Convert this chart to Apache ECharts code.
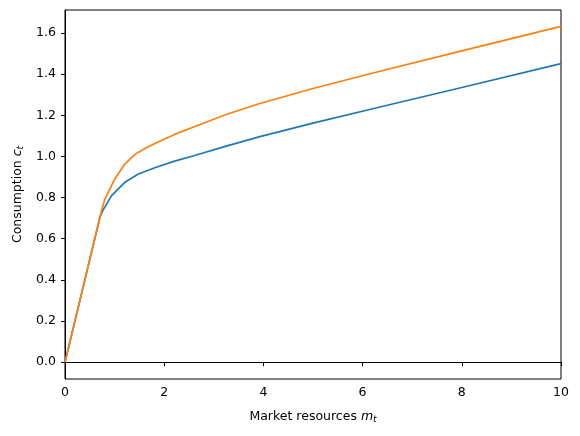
<!DOCTYPE html>
<html>
<head>
<meta charset="utf-8">
<script src="https://cdn.jsdelivr.net/npm/echarts@6/dist/echarts.min.js"></script>
<style>html,body{margin:0;padding:0;background:#fff}#c{width:580px;height:436px}</style>
</head>
<body>
<div id="c"></div>
<script>
const mBlue = [0, 0.71, 0.77, 0.935, 1.2, 1.47, 1.81, 2.21, 2.58, 3.25, 3.93, 5, 6.35, 8, 10];
const cBlue = [0, 0.71, 0.74, 0.808, 0.873, 0.913, 0.945, 0.977, 1.002, 1.050, 1.096, 1.162, 1.240, 1.335, 1.451];
const mOrange = [0, 0.74, 0.80, 1.0, 1.2, 1.41, 1.61, 1.81, 2.21, 2.58, 3.25, 3.93, 5, 6.35, 8, 10];
const cOrange = [0, 0.74, 0.79, 0.889, 0.961, 1.010, 1.038, 1.063, 1.107, 1.142, 1.204, 1.257, 1.33, 1.414, 1.513, 1.632];
const xTicks = [0, 2, 4, 6, 8, 10];
const yTicks = [0, 0.2, 0.4, 0.6, 0.8, 1.0, 1.2, 1.4, 1.6];

const font = 'DejaVu Sans';
const zip = (a, b) => a.map((v, i) => [v, b[i]]);
const chart = echarts.init(document.getElementById('c'), null, {renderer: 'canvas'});
chart.setOption({
  animation: false,
  grid: {left: 65, right: 19, top: 10, bottom: 57, show: true, borderColor: '#000', borderWidth: 1, backgroundColor: '#fff'},
  xAxis: {
    type: 'value', min: 0, max: 10,
    axisLine: {show: true, lineStyle: {color: '#000', width: 1}},
    axisTick: {show: true, length: 4, inside: false, customValues: xTicks, lineStyle: {color: '#000'}},
    axisLabel: {customValues: xTicks, color: '#000', fontFamily: font, fontSize: 12.5, margin: 7, formatter: v => String(v)},
    splitLine: {show: false},
    name: 'Market resources {i|m}{s|t}', nameLocation: 'middle', nameGap: 30,
    nameTextStyle: {color: '#000', fontFamily: font, fontSize: 12.5,
      rich: {i: {fontStyle: 'italic', fontFamily: font, fontSize: 12.5, color: '#000'},
             s: {fontStyle: 'italic', fontFamily: font, fontSize: 9, color: '#000', verticalAlign: 'bottom', padding: [6, 0, 0, 0]}}}
  },
  yAxis: {
    type: 'value', min: -0.0815, max: 1.7115,
    axisLine: {show: true, lineStyle: {color: '#000', width: 1}},
    axisTick: {show: true, length: 4, inside: false, customValues: yTicks, lineStyle: {color: '#000'}},
    axisLabel: {customValues: yTicks, color: '#000', fontFamily: font, fontSize: 12.5, margin: 9, formatter: v => v.toFixed(1)},
    splitLine: {show: false},
    name: 'Consumption {i|c}{s|t}', nameLocation: 'middle', nameGap: 40, nameRotate: 90,
    nameTextStyle: {color: '#000', fontFamily: font, fontSize: 12.5,
      rich: {i: {fontStyle: 'italic', fontFamily: font, fontSize: 12.5, color: '#000'},
             s: {fontStyle: 'italic', fontFamily: font, fontSize: 9, color: '#000', padding: [6, 0, 0, 0]}}}
  },
  series: [
    {type: 'line', data: zip(mBlue, cBlue), showSymbol: false, smooth: false, lineStyle: {color: '#1f77b4', width: 1.7}, itemStyle: {color: '#1f77b4'}},
    {type: 'line', data: zip(mOrange, cOrange), showSymbol: false, smooth: false, lineStyle: {color: '#ff7f0e', width: 1.7}, itemStyle: {color: '#ff7f0e'}}
  ]
});
</script>
</body>
</html>
